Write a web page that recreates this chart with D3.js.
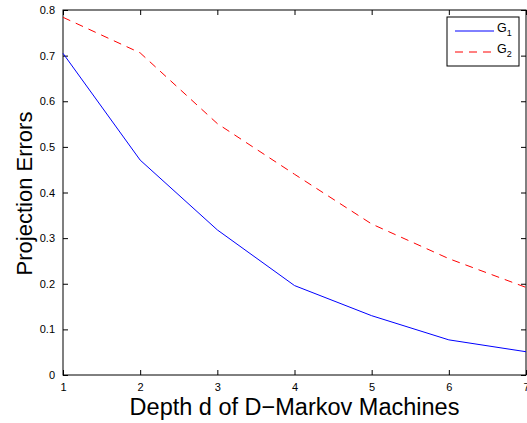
<!DOCTYPE html>
<html>
<head>
<meta charset="utf-8">
<script src="https://cdn.jsdelivr.net/npm/d3@7"></script>
<style>
  body { margin: 0; background: #fff; }
  text { font-family: "Liberation Sans", Arial, sans-serif; fill: #000; }
</style>
</head>
<body>
<svg width="527" height="423"></svg>
<script>
// depth d values and projection errors per grammar
const depths = [1, 2, 3, 4, 5, 6, 7];
const g1 = [0.705, 0.471, 0.318, 0.196, 0.130, 0.077, 0.051];
const g2 = [0.784, 0.706, 0.551, 0.440, 0.331, 0.255, 0.192];
const yTicks = [0, 0.1, 0.2, 0.3, 0.4, 0.5, 0.6, 0.7, 0.8];

let svg = d3.select("svg"),
	margin = {top: 10, right: 1, bottom: 48, left: 63},
	width = +svg.attr("width") - margin.left - margin.right,
	height = +svg.attr("height") - margin.top - margin.bottom;

let x = d3.scaleLinear().domain([1, 7]).range([0, width]);
let y = d3.scaleLinear().domain([0, 0.8]).range([height, 0]);

let g = svg.append("g").attr("transform", `translate(${margin.left},${margin.top})`);

// axes with inward ticks (matlab style)
function styleAxis(sel, hideText) {
	sel.select(".domain").remove();
	sel.selectAll("line").attr("stroke", "#000");
	sel.selectAll("text").style("font-size", "11px");
	if (hideText) sel.selectAll("text").remove();
}

g.append("g").attr("transform", `translate(0,${height})`)
	.call(d3.axisBottom(x).tickValues(depths).tickFormat(d3.format("d")).tickSizeInner(-5).tickPadding(8))
	.call(s => styleAxis(s, false));
g.append("g")
	.call(d3.axisTop(x).tickValues(depths).tickSizeInner(-5))
	.call(s => styleAxis(s, true));
g.append("g")
	.call(d3.axisLeft(y).tickValues(yTicks).tickFormat(d => d === 0 ? "0" : d3.format(".1f")(d)).tickSizeInner(-5).tickPadding(8))
	.call(s => styleAxis(s, false));
g.append("g").attr("transform", `translate(${width},0)`)
	.call(d3.axisRight(y).tickValues(yTicks).tickSizeInner(-5))
	.call(s => styleAxis(s, true));

g.append("rect")
	.attr("width", width).attr("height", height)
	.attr("fill", "none").attr("stroke", "#000").attr("stroke-width", 1);

let line = d3.line().x((d, i) => x(depths[i])).y(d => y(d));

g.append("path").datum(g1)
	.attr("d", line).attr("fill", "none")
	.attr("stroke", "#0000ff").attr("stroke-width", 1);
g.append("path").datum(g2)
	.attr("d", line).attr("fill", "none")
	.attr("stroke", "#ff0000").attr("stroke-width", 1)
	.attr("stroke-dasharray", "8,6");

// labels
svg.append("text")
	.attr("x", margin.left + width / 2).attr("y", 415)
	.attr("text-anchor", "middle").style("font-size", "23.5px")
	.text("Depth d of D\u2212Markov Machines");
svg.append("text")
	.attr("transform", `translate(32,${margin.top + height / 2 + 1}) rotate(-90)`)
	.attr("text-anchor", "middle").style("font-size", "22px")
	.text("Projection Errors");

// legend
let leg = svg.append("g").attr("transform", "translate(447,17)");
leg.append("rect").attr("width", 72).attr("height", 49)
	.attr("fill", "#fff").attr("stroke", "#000").attr("stroke-width", 1);
const legItems = [
	{label: "1", color: "#0000ff", dash: null},
	{label: "2", color: "#ff0000", dash: "8,6"}
];
legItems.forEach((d, i) => {
	let yy = 14 + i * 21;
	leg.append("line").attr("x1", 8).attr("x2", 47).attr("y1", yy).attr("y2", yy)
		.attr("stroke", d.color).attr("stroke-dasharray", d.dash);
	let t = leg.append("text").attr("x", 50).attr("y", yy + 1).style("font-size", "12.5px");
	t.append("tspan").text("G");
	t.append("tspan").attr("dy", 4).style("font-size", "9px").text(d.label);
});
</script>
</body>
</html>
